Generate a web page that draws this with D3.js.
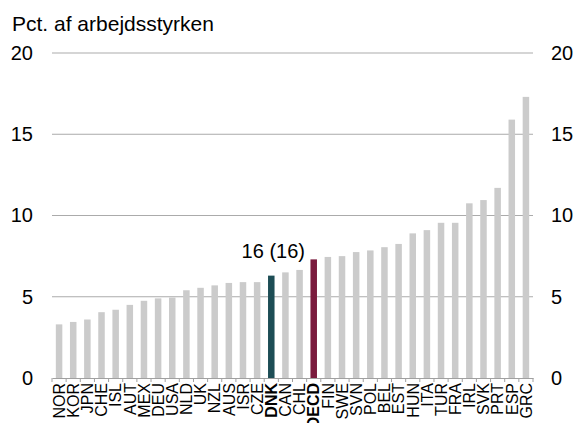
<!DOCTYPE html>
<html>
<head>
<meta charset="utf-8">
<script src="https://cdn.jsdelivr.net/npm/d3@7"></script>
<style>
  body { margin: 0; background: #fff; }
  svg { display: block; font-family: "Liberation Sans", Arial, sans-serif; }
</style>
</head>
<body>
<div id="chart"></div>
<script>
const countries = ["NOR","KOR","JPN","CHE","ISL","AUT","MEX","DEU","USA","NLD","UK","NZL","AUS","ISR","CZE",
                   "DNK","CAN","CHL","OECD","FIN","SWE","SVN","POL","BEL","EST","HUN","ITA","TUR","FRA",
                   "IRL","SVK","PRT","ESP","GRC"]
const values = [3.3,3.45,3.6,4.05,4.2,4.5,4.75,4.9,4.95,5.4,5.55,5.7,5.85,5.9,5.9,
                6.3,6.5,6.65,7.3,7.45,7.5,7.75,7.85,8.05,8.25,8.9,9.1,9.55,9.55,
                10.75,10.95,11.7,15.9,17.3]
const yTicks = [0, 5, 10, 15, 20]
const highlight = { DNK: "#1d4d55", OECD: "#7a1b3d" }
const annotation = "16 (16)"

const width = 576, height = 423
const plotLeft = 52, plotRight = 533, plotTop = 53, plotBottom = 378

const svg = d3.select('#chart')
              .append('svg')
              .attr('width', width)
              .attr('height', height)

const xScale = d3.scaleBand()
                 .domain(countries)
                 .range([plotLeft, plotRight])
                 .paddingInner(0.54)
                 .paddingOuter(0.27)

const yScale = d3.scaleLinear()
                 .domain([0, 20])
                 .range([plotBottom, plotTop])

// gridlines
svg.append('g')
   .selectAll('line')
   .data(yTicks.filter(d => d > 0))
   .enter()
   .append('line')
   .attr('x1', plotLeft)
   .attr('x2', plotRight)
   .attr('y1', d => yScale(d))
   .attr('y2', d => yScale(d))
   .attr('stroke', '#ababab')
   .attr('stroke-width', 1)

// bars
svg.append('g')
   .selectAll('rect')
   .data(countries)
   .enter()
   .append('rect')
   .attr('x', d => xScale(d))
   .attr('width', xScale.bandwidth())
   .attr('y', (d, i) => yScale(values[i]))
   .attr('height', (d, i) => plotBottom - yScale(values[i]))
   .attr('fill', d => highlight[d] || '#cbcbcb')

// x axis
const xAxis = d3.axisBottom(xScale).tickSize(0).tickPadding(5)
const gx = svg.append('g')
              .attr('transform', 'translate(0,' + plotBottom + ')')
              .call(xAxis)
gx.select('.domain').attr('stroke', '#a0a0a0')
gx.selectAll('text')
  .attr('transform', 'rotate(-90)')
  .attr('text-anchor', 'end')
  .attr('dy', '0.36em')
  .attr('x', -5)
  .attr('y', 0)
  .attr('font-size', 16)
  .attr('fill', '#000')
  .attr('font-weight', d => highlight[d] ? 'bold' : 'normal')

// ticks between bands
const step = xScale.step()
const bounds = d3.range(countries.length + 1).map(i => plotLeft + i * step)
svg.append('g')
   .selectAll('line')
   .data(bounds)
   .enter()
   .append('line')
   .attr('x1', d => d)
   .attr('x2', d => d)
   .attr('y1', plotBottom)
   .attr('y2', plotBottom + 4)
   .attr('stroke', '#a0a0a0')

// y axes (left and right)
const yLeft = d3.axisLeft(yScale).tickValues(yTicks).tickSize(0).tickPadding(0)
const gl = svg.append('g').attr('transform', 'translate(33,0)').call(yLeft)
const yRight = d3.axisRight(yScale).tickValues(yTicks).tickSize(0).tickPadding(0)
const gr = svg.append('g').attr('transform', 'translate(551,0)').call(yRight)
;[gl, gr].forEach(g => {
  g.select('.domain').remove()
  g.selectAll('text').attr('font-size', 20).attr('fill', '#000')
})

// title
svg.append('text')
   .attr('x', 12)
   .attr('y', 31)
   .attr('font-size', 21)
   .attr('fill', '#000')
   .text('Pct. af arbejdsstyrken')

// annotation above DNK
svg.append('text')
   .attr('x', xScale('DNK') + xScale.bandwidth() / 2 + 2)
   .attr('y', yScale(values[countries.indexOf('DNK')]) - 18)
   .attr('text-anchor', 'middle')
   .attr('font-size', 20)
   .attr('fill', '#000')
   .text(annotation)
</script>
</body>
</html>
